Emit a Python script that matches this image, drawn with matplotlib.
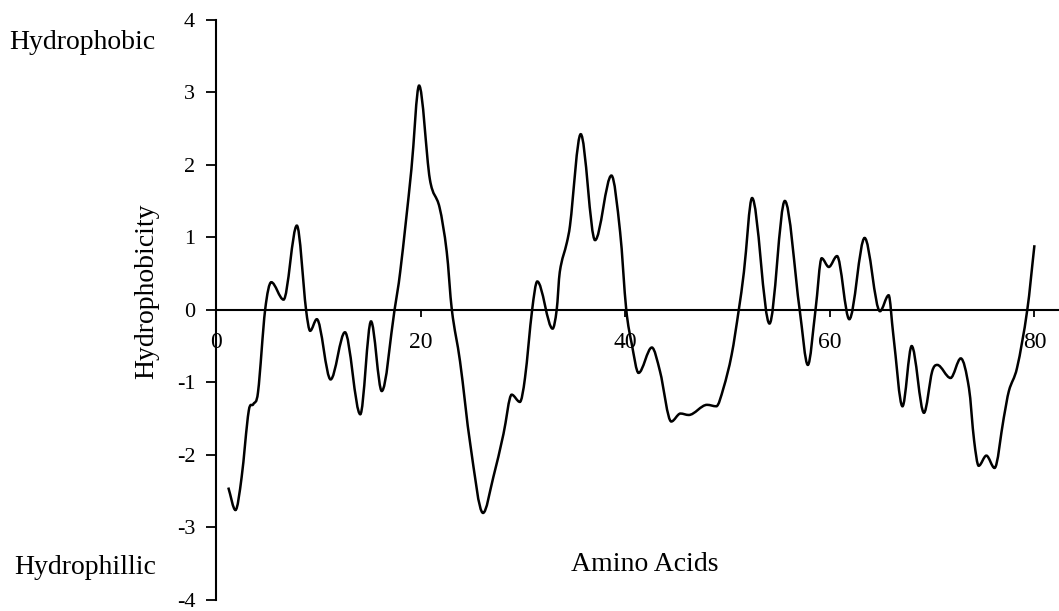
import matplotlib
matplotlib.use("Agg")
import matplotlib.pyplot as plt
from matplotlib.path import Path
from matplotlib.patches import PathPatch
import numpy as np

plt.rc('font', family='Liberation Serif')
plt.rc('axes', unicode_minus=False)

# points
amino = [1.2, 1.9, 2.5, 3.2, 3.65, 4.1, 4.8, 5.4, 6.6, 7.9, 8.8, 9.2, 9.85,
         11.2, 12.6, 14.1, 15.15, 16.2, 17.45, 18.0, 19.1, 19.85, 20.9, 21.85,
         22.55, 23.05, 23.85, 24.85, 26.1, 27.1, 28.1, 28.9, 29.7, 30.2, 30.9,
         31.4, 32.9, 33.3, 33.6, 34.3, 34.6, 35.65, 37.05, 38.65, 39.5, 40.1,
         40.65, 41.3, 42.6, 43.4, 44.5, 45.4, 46.2, 48.0, 48.9, 49.6, 50.4,
         51.1, 51.6, 52.4, 54.1, 55.6, 57.05, 57.85, 58.6, 59.2, 59.9, 60.7,
         61.9, 63.4, 64.9, 65.75, 66.2, 67.1, 68.0, 69.2, 70.0, 70.5, 71.8,
         72.8, 73.6, 74.1, 74.55, 75.3, 76.1, 77.0, 77.5, 78.3, 79.3, 80.0]
hydro = [-2.45, -2.76, -2.31, -1.39, -1.30, -1.14, 0.0, 0.38, 0.14, 1.16, 0.0,
         -0.29, -0.13, -0.96, -0.31, -1.44, -0.16, -1.12, 0.0, 0.52, 1.94, 3.09,
         1.80, 1.41, 0.80, 0.0, -0.71, -1.85, -2.80, -2.31, -1.71, -1.17, -1.27,
         -0.94, 0.0, 0.39, -0.26, 0.0, 0.52, 0.93, 1.16, 2.42, 0.96, 1.85, 1.07,
         0.0, -0.48, -0.87, -0.52, -0.85, -1.54, -1.43, -1.45, -1.31, -1.33,
         -1.08, -0.62, 0.0, 0.52, 1.54, -0.19, 1.50, 0.0, -0.76, 0.0, 0.71, 0.59,
         0.74, -0.13, 0.99, -0.02, 0.20, -0.34, -1.33, -0.50, -1.42, -0.85,
         -0.76, -0.94, -0.67, -1.08, -1.80, -2.15, -2.01, -2.18, -1.49, -1.12,
         -0.80, 0.0, 0.89]

xticks = [0, 20, 40, 60, 80]
yticks = [-4, -3, -2, -1, 0, 1, 2, 3, 4]


def smooth_path(x, y):
    # cubic hermite through the points, flat at the local peaks/troughs
    x = np.asarray(x, float)
    y = np.asarray(y, float)
    n = len(x)
    m = np.zeros(n)
    for i in range(n):
        if i == 0:
            m[i] = (y[1] - y[0]) / (x[1] - x[0])
        elif i == n - 1:
            m[i] = (y[-1] - y[-2]) / (x[-1] - x[-2])
        elif (y[i] - y[i-1]) * (y[i+1] - y[i]) <= 0:
            m[i] = 0.0
        else:
            m[i] = (y[i+1] - y[i-1]) / (x[i+1] - x[i-1])
    verts = [(x[0], y[0])]
    codes = [Path.MOVETO]
    for i in range(n - 1):
        h = x[i+1] - x[i]
        verts += [(x[i] + h/3, y[i] + m[i]*h/3),
                  (x[i+1] - h/3, y[i+1] - m[i+1]*h/3),
                  (x[i+1], y[i+1])]
        codes += [Path.CURVE4] * 3
    return Path(verts, codes)


fig = plt.figure(figsize=(10.59, 6.11), dpi=100)
ax = fig.add_axes([0.204, 0.018, 0.796, 0.950])

ax.add_patch(PathPatch(smooth_path(amino, hydro), facecolor='none',
                       edgecolor='black', lw=1.8))

ax.set_xlim(0, 82.4)
ax.set_ylim(-4, 4)
ax.spines['top'].set_visible(False)
ax.spines['right'].set_visible(False)
ax.spines['bottom'].set_position(('data', 0))
ax.spines['bottom'].set_linewidth(1.5)
ax.spines['left'].set_linewidth(1.5)

ax.set_xticks(xticks)
ax.set_yticks(yticks)
ax.tick_params(axis='x', direction='out', length=5, width=1.3, pad=11, labelsize=17)
ax.tick_params(axis='y', direction='out', length=7, width=1.3, pad=8, labelsize=16)

fig.text(0.139, 0.524, "Hydrophobicity", rotation=90, fontsize=20,
         ha='center', va='center')
fig.text(0.609, 0.0753, "Amino Acids", fontsize=20, ha='center', va='center')
fig.text(0.078, 0.931, "Hydrophobic", fontsize=20, ha='center', va='center')
fig.text(0.080, 0.072, "Hydrophillic", fontsize=20, ha='center', va='center')

plt.savefig("out.png", dpi=100)
